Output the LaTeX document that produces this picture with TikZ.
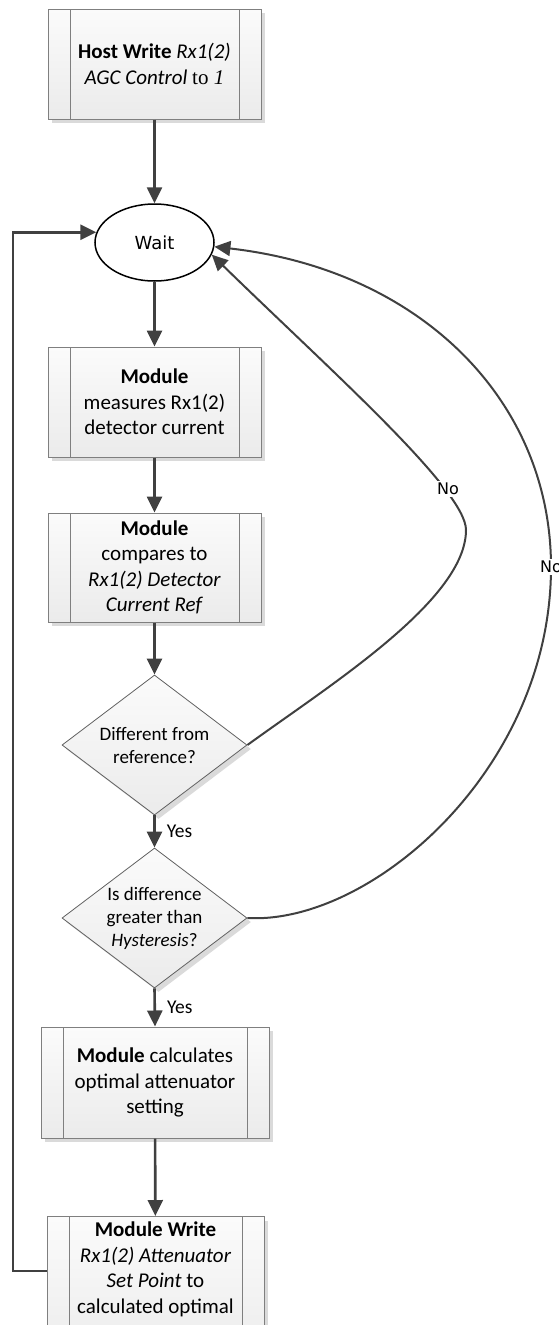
\documentclass[tikz,border=0pt]{standalone}
\usepackage{fontspec}
\setmainfont{Carlito}
\newfontfamily\labelfont{DejaVu Sans}
\newfontfamily\seriffont{Liberation Serif}
\usetikzlibrary{shapes.geometric,shadows,arrows.meta}

\definecolor{linkcol}{HTML}{404040}
\definecolor{edgecol}{HTML}{7F7F7F}
\definecolor{shadecol}{HTML}{DADADA}
\definecolor{filltop}{HTML}{FBFBFB}
\definecolor{fillbot}{HTML}{EBEBEB}

\tikzset{
  boxtext/.style={font=\fontsize{21}{25.5}\selectfont, align=center},
  procbox/.style={rectangle, draw=edgecol, line width=1pt,
    top color=filltop, bottom color=fillbot,
    drop shadow={shadow xshift=4pt, shadow yshift=-4pt, fill=shadecol, opacity=1},
    inner sep=0pt, boxtext,
    path picture={
      \draw[edgecol, line width=1pt]
        ([xshift=22pt]path picture bounding box.north west) -- ([xshift=22pt]path picture bounding box.south west)
        ([xshift=-22pt]path picture bounding box.north east) -- ([xshift=-22pt]path picture bounding box.south east);
    }},
  decision/.style={diamond, shape aspect=1.3, draw=black!62, line width=0.8pt,
    top color=filltop, bottom color=fillbot,
    drop shadow={shadow xshift=4pt, shadow yshift=-4pt, fill=shadecol, opacity=1},
    inner sep=-4pt, font=\fontsize{19}{23}\selectfont, align=center,
    minimum width=185pt, minimum height=140pt},
  state/.style={ellipse, draw=black, line width=1.5pt, fill=white,
    minimum width=119pt, minimum height=77pt, font=\labelfont\fontsize{18}{21}\selectfont},
  flow/.style={draw=linkcol, line width=2.6pt, -{Triangle[length=16pt,width=15pt]}},
  back/.style={draw=linkcol, line width=2pt, -{Triangle[length=16pt,width=15pt]}},
  branch/.style={font=\fontsize{19.5}{22}\selectfont, inner sep=1pt, text=black},
  nolabel/.style={font=\labelfont\fontsize{16}{18}\selectfont, fill=white, inner sep=2pt}
}

\begin{document}
\begin{tikzpicture}[x=1pt,y=1pt]
\useasboundingbox (0,0) rectangle (559,-1325);
\clip (0,0) rectangle (559,-1325);

% process steps
\node[procbox, minimum width=213pt, minimum height=110pt] (b1) at (154.5,-64)
  {\textbf{Host Write} \textit{Rx1(2)}\\\textit{AGC Control} {\seriffont to \textit{1}}};
\node[state] (wait) at (154.5,-242.5) {Wait};
\node[procbox, minimum width=213pt, minimum height=110pt] (b2) at (154.5,-402)
  {\textbf{Module}\\measures Rx1(2)\\detector current};
\node[procbox, minimum width=213pt, minimum height=109pt] (b3) at (154.5,-567.5)
  {\textbf{Module}\\compares to\\\textit{Rx1(2) Detector}\\\textit{Current Ref}};
\node[decision] (d1) at (154.5,-745) {Different from\\reference?};
\node[decision] (d2) at (154.5,-918) {Is difference\\greater than\\\textit{Hysteresis}?};
\node[procbox, minimum width=228pt, minimum height=111pt] (b4) at (155,-1082.5)
  {\textbf{Module} calculates\\optimal attenuator\\setting};
\node[procbox, minimum width=217pt, minimum height=150pt, anchor=north] (b5) at (155.5,-1216) {};
\node[boxtext, anchor=north, inner sep=0pt] (b5txt) at ([yshift=-6pt]b5.north)
  {\textbf{Module Write}\\\textit{Rx1(2) Attenuator}\\\textit{Set Point} to\\calculated optimal};

% main flow
\draw[flow] (b1) -- (wait);
\draw[flow] (wait) -- (b2);
\draw[flow] (b2) -- (b3);
\draw[flow] (b3) -- (d1);
\draw[flow] (d1.south) -- node[branch, right, xshift=10pt] (yes1) {Yes} (d2.north);
\draw[flow] (d2.south) -- node[branch, right, xshift=10pt] (yes2) {Yes} (b4.north);
\draw[flow] (b4) -- (b5);

% return loop to the wait state
\coordinate (loopturn) at (13,-1271);
\draw[flow] (b5.west |- loopturn) -- (loopturn) |- (wait.170);

% "No" branches back to the wait state
\coordinate (bend1) at (466,-530);
\coordinate (bend2) at (551,-567);
\draw[back] (d1.east) .. controls (330,-685) and (466,-600) .. (bend1)
  .. controls (466,-490) and (330,-370) .. (wait.-12);
\draw[back] (d2.east) .. controls (370,-925) and (551,-770) .. (bend2)
  .. controls (551,-400) and (420,-270) .. (wait.-4);
\node[nolabel] (no1) at (448,-489) {No};
\node[nolabel] (no2) at (bend2) {No};
\end{tikzpicture}
\end{document}
